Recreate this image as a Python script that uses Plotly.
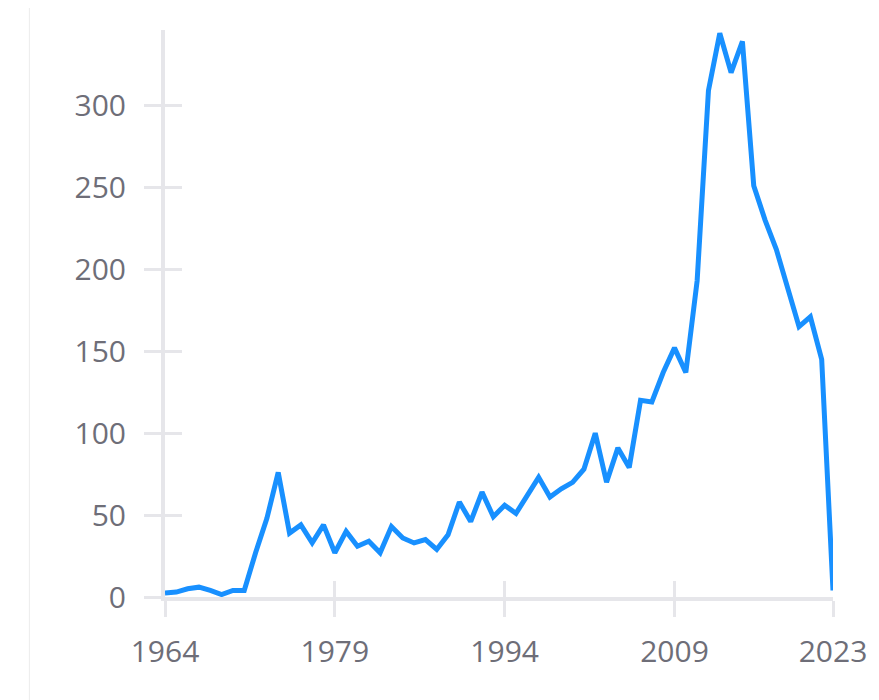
import plotly.graph_objects as go

years = list(range(1964, 2024))
values = [
    2.5, 3, 5, 6, 4, 1.5, 4, 4, 27, 48,        # 1964-1973
    76, 39, 44, 33, 44, 27, 40, 31, 34, 27,    # 1974-1983
    43, 36, 33, 35, 29, 38, 58, 46, 64, 49,    # 1984-1993
    56, 51, 62, 73, 61, 66, 70, 78, 100, 70,   # 1994-2003
    91, 79, 120, 119, 137, 152, 137, 193, 309, 344,  # 2004-2013
    320, 339, 251, 230, 212, 188, 165, 171, 145, 4,  # 2014-2023
]
x_tickvals = [1964, 1979, 1994, 2009, 2023]
y_tickvals = [0, 50, 100, 150, 200, 250, 300]

axis_gray = "#e6e6ea"
label_gray = "#6e6e78"
font_family = "Open Sans, Liberation Sans, Arial, sans-serif"
x_range = [1964, 2023]
y_range = [0, 346]

fig = go.Figure()
fig.add_trace(go.Scatter(
    x=years, y=values, mode="lines",
    line=dict(color="#1890ff", width=5),
    showlegend=False, hoverinfo="x+y",
))
# invisible trace to keep overlay axes (for inside ticks) alive
fig.add_trace(go.Scatter(
    x=years, y=values, mode="lines", xaxis="x2", yaxis="y2",
    line=dict(width=0), showlegend=False, hoverinfo="skip",
))

common_x = dict(range=x_range, tickmode="array", tickvals=x_tickvals,
                showgrid=False, zeroline=False,
                tickcolor=axis_gray, tickwidth=2.5, ticklen=16)
common_y = dict(range=y_range, tickmode="array", tickvals=y_tickvals,
                showgrid=False, zeroline=False,
                tickcolor=axis_gray, tickwidth=2.5, ticklen=17)

W, H = 871, 692
L, R, T, B = 157, 44, 22, 103
pw, ph = W - L - R, H - T - B

fig.update_layout(
    width=W, height=H,
    margin=dict(l=L, r=R, t=T, b=B),
    paper_bgcolor="white", plot_bgcolor="white",
    font=dict(family=font_family, size=30, color=label_gray),
    xaxis=dict(**common_x, ticks="outside", showline=True,
               linecolor=axis_gray, linewidth=4,
               tickfont=dict(size=30, color=label_gray),
               ticklabelstandoff=9),
    yaxis=dict(**common_y, ticks="outside", showline=True,
               linecolor=axis_gray, linewidth=4,
               tickfont=dict(size=30, color=label_gray),
               ticklabelstandoff=12),
    xaxis2=dict(**common_x, ticks="inside", overlaying="x", side="bottom",
                showline=False, showticklabels=False, anchor="y2"),
    yaxis2=dict(**common_y, ticks="inside", overlaying="y", side="left",
                showline=False, showticklabels=False, anchor="x2"),
    shapes=[dict(type="line", xref="paper", yref="paper",
                 x0=(21 - L) / pw, x1=(21 - L) / pw,
                 y0=-B / ph - 0.05, y1=(H - B) / ph,
                 line=dict(color="#ececec", width=1), layer="below")],
)

fig.write_html("out.html")
